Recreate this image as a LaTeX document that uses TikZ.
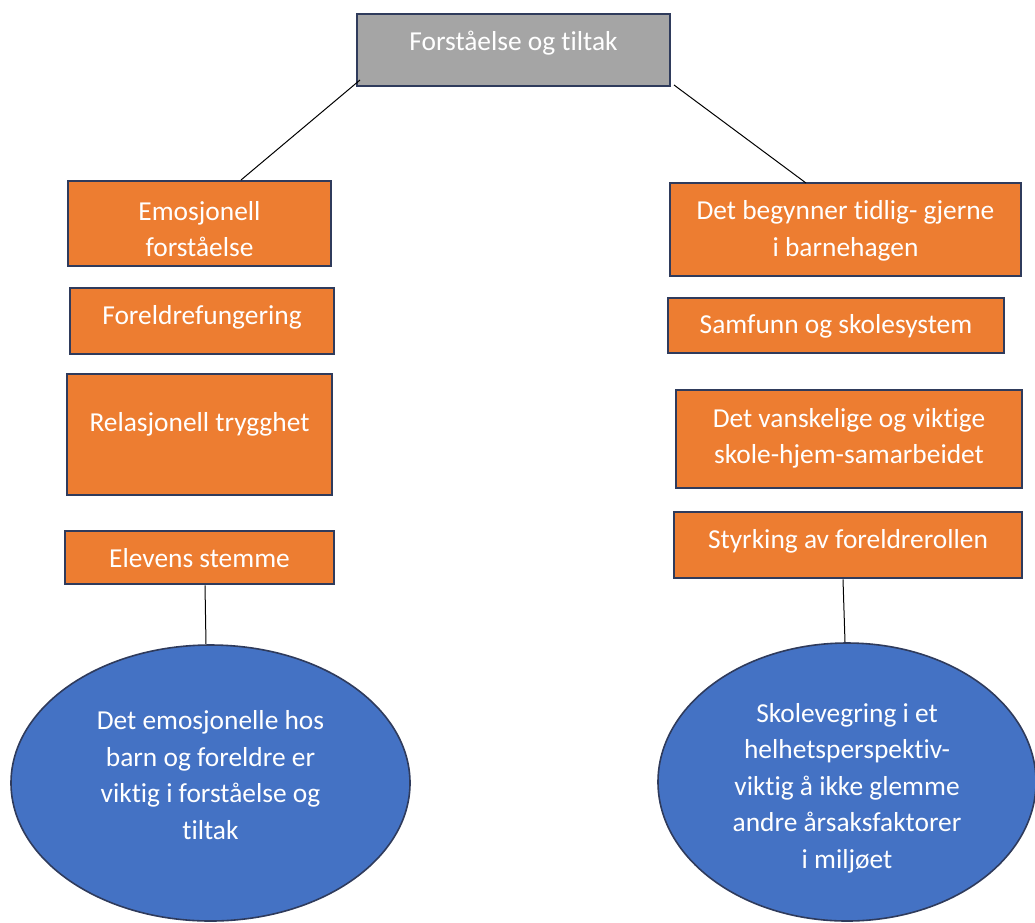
\documentclass[tikz,border=0pt]{standalone}
\usepackage{fontspec}
\setmainfont{Carlito}[Ligatures={NoCommon}]
\usetikzlibrary{shapes.geometric}
\definecolor{navy}{HTML}{2F3B5C}
\definecolor{orng}{HTML}{ED7D31}
\definecolor{gry}{HTML}{A5A5A5}
\definecolor{blu}{HTML}{4472C4}
\tikzset{
  obox/.style={draw=navy, line width=2.8pt, fill=orng, inner sep=0pt, rectangle},
  gbox/.style={draw=navy, line width=2.8pt, fill=gry, inner sep=0pt, rectangle},
  bell/.style={draw=navy, line width=1.6pt, fill=blu, inner sep=0pt, ellipse},
  txt/.style={text=white, align=center, font=\fontsize{27.4}{36.5}\selectfont, inner sep=0pt},
  conn/.style={draw=black, line width=1pt}
}
\begin{document}
\begin{tikzpicture}[x=1pt,y=1pt]
\useasboundingbox (0,0) rectangle (1035,-922);
% top
\node[gbox, minimum width=313, minimum height=72] (top) at (513.5,-50) {};
\node[txt] (topt) at (513.5,-43) {Forståelse og tiltak};
% left column
\node[obox, minimum width=263, minimum height=85] (l1) at (199.5,-223.5) {};
\node[txt] (l1t) at (199.5,-229) {Emosjonell\\forståelse};
\node[obox, minimum width=264, minimum height=66] (l2) at (202,-321) {};
\node[txt] (l2t) at (202,-317) {Foreldrefungering};
\node[obox, minimum width=265, minimum height=121] (l3) at (199.5,-434.5) {};
\node[txt] (l3t) at (199.5,-424) {Relasjonell trygghet};
\node[obox, minimum width=269, minimum height=53] (l4) at (199.5,-557.5) {};
\node[txt] (l4t) at (199.5,-558) {Elevens stemme};
% right column
\node[obox, minimum width=351, minimum height=93] (r1) at (845.5,-229.5) {};
\node[txt] (r1t) at (845.5,-231) {Det begynner tidlig- gjerne\\i barnehagen};
\node[obox, minimum width=336, minimum height=55] (r2) at (836,-325.5) {};
\node[txt] (r2t) at (836,-326) {Samfunn og skolesystem};
\node[obox, minimum width=346, minimum height=98] (r3) at (849,-439) {};
\node[txt] (r3t) at (849,-438.5) {Det vanskelige og viktige\\skole-hjem-samarbeidet};
\node[obox, minimum width=348, minimum height=66] (r4) at (848,-545) {};
\node[txt] (r4t) at (848,-541) {Styrking av foreldrerollen};
% ellipses
\node[bell, minimum width=399, minimum height=276] (el) at (210.5,-783) {};
\node[txt] (elt) at (210.5,-775) {Det emosjonelle hos\\barn og foreldre er\\viktig i forståelse og\\tiltak};
\node[bell, minimum width=378, minimum height=278] (er) at (847,-782) {};
\node[txt] (ert) at (847,-788) {Skolevegring i et\\helhetsperspektiv-\\viktig å ikke glemme\\andre årsaksfaktorer\\i miljøet};
% connectors
\coordinate (a1) at (360,-80);
\coordinate (a2) at (241,-180);
\coordinate (b1) at (674,-85);
\coordinate (b2) at (806,-183);
\draw[conn] (a1) -- (a2);
\draw[conn] (b1) -- (b2);
\draw[conn] (l4.south -| 205,0) -- (el.north -| 206,0);
\draw[conn] (r4.south -| 843,0) -- (er.north -| 845,0);
\end{tikzpicture}
\end{document}
